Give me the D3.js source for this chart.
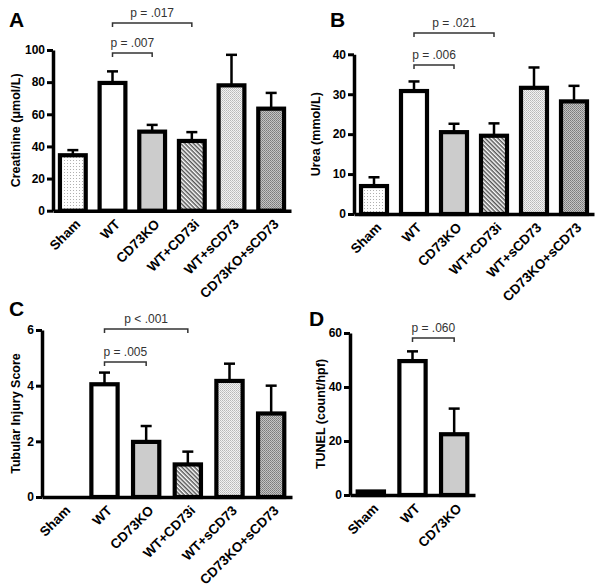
<!DOCTYPE html>
<html><head><meta charset="utf-8">
<script src="https://cdn.jsdelivr.net/npm/d3@7/dist/d3.min.js"></script>
<style>
html,body{margin:0;padding:0;background:#fff;}
svg{display:block;font-family:"Liberation Sans",Arial,Helvetica,sans-serif;}
</style></head>
<body>
<svg id="c" width="604" height="587"></svg>
<script>
// ---- data ----
const groups6 = ["Sham","WT","CD73KO","WT+CD73i","WT+sCD73","CD73KO+sCD73"];
const groups3 = ["Sham","WT","CD73KO"];
const creatinine = [34.5, 79.5, 49.2, 43.4, 78.0, 63.5];
const creatinineErr = [3.2, 7.2, 4.2, 5.5, 19.0, 9.8];
const urea = [7.0, 30.8, 20.5, 19.6, 31.6, 28.2];
const ureaErr = [2.2, 2.4, 2.1, 3.1, 5.1, 3.9];
const injury = [0, 4.05, 1.98, 1.17, 4.17, 3.0];
const injuryErr = [0, 0.42, 0.57, 0.46, 0.62, 1.0];
const tunel = [1.3, 49.6, 22.5];
const tunelErr = [0, 3.6, 9.5];
const ticksA = [0,20,40,60,80,100];
const ticksB = [0,10,20,30,40];
const ticksC = [0,2,4,6];
const ticksD = [0,20,40,60];
const compA = [{a:"WT",b:"CD73KO",label:"p = .007",level:0},{a:"WT",b:"WT+CD73i",label:"p = .017",level:1}];
const compB = [{a:"WT",b:"CD73KO",label:"p = .006",level:0},{a:"WT",b:"WT+CD73i",label:"p = .021",level:1}];
const compC = [{a:"WT",b:"CD73KO",label:"p = .005",level:0},{a:"WT",b:"WT+CD73i",label:"p < .001",level:1}];
const compD = [{a:"WT",b:"CD73KO",label:"p = .060",level:0}];

const svg = d3.select("#c");
svg.append("rect").attr("width",604).attr("height",587).attr("fill","#fff");

// patterns
const defs = svg.append("defs");
const fills = {
  "Sham":"url(#pSham)", "WT":"#ffffff", "CD73KO":"#cccccc",
  "WT+CD73i":"url(#pHatch)", "WT+sCD73":"url(#pLight)", "CD73KO+sCD73":"url(#pDark)"
};
let p = defs.append("pattern").attr("id","pSham").attr("patternUnits","userSpaceOnUse").attr("width",3).attr("height",3);
p.append("rect").attr("width",3).attr("height",3).attr("fill","#fff");
p.append("rect").attr("x",1).attr("y",1).attr("width",1).attr("height",1).attr("fill","#b0b0b0");
p = defs.append("pattern").attr("id","pHatch").attr("patternUnits","userSpaceOnUse").attr("width",3).attr("height",3).attr("patternTransform","rotate(45)");
p.append("rect").attr("width",3).attr("height",3).attr("fill","#fff");
p.append("rect").attr("width",3).attr("height",1.5).attr("fill","#555");
p = defs.append("pattern").attr("id","pLight").attr("patternUnits","userSpaceOnUse").attr("width",2).attr("height",2);
p.append("rect").attr("width",2).attr("height",2).attr("fill","#f2f2f2");
p.append("rect").attr("width",1).attr("height",1).attr("fill","#b8b8b8");
p.append("rect").attr("x",1).attr("y",1).attr("width",1).attr("height",1).attr("fill","#c8c8c8");
p = defs.append("pattern").attr("id","pDark").attr("patternUnits","userSpaceOnUse").attr("width",2).attr("height",2);
p.append("rect").attr("width",2).attr("height",2).attr("fill","#c4c4c4");
p.append("rect").attr("width",1).attr("height",1).attr("fill","#7a7a7a");
p.append("rect").attr("x",1).attr("y",1).attr("width",1).attr("height",1).attr("fill","#8a8a8a");

function panel(cfg){
  const g = svg.append("g");
  const x = d3.scaleBand().domain(cfg.groups).range(cfg.xr).paddingInner(cfg.pad).paddingOuter(cfg.pad/2);
  const y = d3.scaleLinear().domain([0, cfg.ymax]).range(cfg.yr);
  const y0 = y(0);
  const data = cfg.groups.map((k,i)=>({k, v:cfg.values[i], e:cfg.errs[i]}));

  // error bars
  const eb = g.append("g").attr("stroke","#000").attr("stroke-width",2.5);
  data.filter(d=>d.e>0).forEach(d=>{
    const cx = x(d.k)+x.bandwidth()/2;
    eb.append("line").attr("x1",cx).attr("x2",cx).attr("y1",y(d.v)).attr("y2",y(d.v+d.e));
    eb.append("line").attr("x1",cx-5.5).attr("x2",cx+5.5).attr("y1",y(d.v+d.e)).attr("y2",y(d.v+d.e));
  });
  // bars
  g.append("g").selectAll("rect").data(data.filter(d=>d.v>0)).join("rect")
    .attr("x",d=>x(d.k)).attr("width",x.bandwidth())
    .attr("y",d=>y(d.v)).attr("height",d=>y0-y(d.v))
    .attr("fill",d=>fills[d.k]).attr("stroke","#000").attr("stroke-width",4.2);

  // y axis
  const ya = g.append("g").attr("transform",`translate(${cfg.xr[0]},0)`)
    .call(d3.axisLeft(y).tickValues(cfg.ticks).tickFormat(d3.format("~g")).tickSize(6).tickSizeOuter(0).tickPadding(2));
  ya.select(".domain").attr("stroke-width",3.5).attr("stroke","#000");
  ya.selectAll(".tick line").attr("stroke-width",3).attr("stroke","#000");
  ya.selectAll(".tick text").attr("font-size",12).attr("font-weight","bold").attr("fill","#000")
    .attr("font-family","Liberation Sans, Arial, sans-serif");
  // x axis
  const xa = g.append("g").attr("transform",`translate(0,${y0})`)
    .call(d3.axisBottom(x).tickSize(0).tickSizeOuter(0));
  xa.select(".domain").attr("stroke-width",3.5).attr("stroke","#000");
  xa.selectAll(".tick text").attr("font-size",13.5).attr("font-weight","bold").attr("fill","#000")
    .attr("font-family","Liberation Sans, Arial, sans-serif")
    .attr("text-anchor","end").attr("dy","0.35em").attr("y",0)
    .attr("transform","translate(5,11) rotate(-45)");

  // y title
  g.append("text").attr("transform",`translate(${cfg.titleX},${(cfg.yr[0]+cfg.yr[1])/2}) rotate(-90)`)
    .attr("text-anchor","middle").attr("dy","0.35em").attr("font-size",12.5).attr("font-weight","bold")
    .text(cfg.title);
  // letter
  g.append("text").attr("x",cfg.letterPos[0]).attr("y",cfg.letterPos[1])
    .attr("font-size",21).attr("font-weight","bold").text(cfg.letter);

  // comparisons
  cfg.comps.forEach(c=>{
    const xa1 = x(c.a)+x.bandwidth()/2, xb1 = x(c.b)+x.bandwidth()/2;
    const by = cfg.bracketY[c.level];
    g.append("path").attr("d",`M${xa1},${by+4}V${by}H${xb1}V${by+4}`)
      .attr("fill","none").attr("stroke","#333").attr("stroke-width",1.5);
    g.append("text").attr("x",(xa1+xb1)/2).attr("y",by-6).attr("text-anchor","middle")
      .attr("font-size",12).attr("fill","#333").text(c.label);
  });
}

panel({groups:groups6, values:creatinine, errs:creatinineErr, ymax:100, ticks:ticksA,
  xr:[53,291], yr:[210.7,50], pad:0.35, title:"Creatinine (\u03bcmol/L)", titleX:16,
  letter:"A", letterPos:[9,27], comps:compA, bracketY:[53,23]});
panel({groups:groups6, values:urea, errs:ureaErr, ymax:40, ticks:ticksB,
  xr:[354,594], yr:[214,54.3], pad:0.35, title:"Urea (mmol/L)", titleX:316,
  letter:"B", letterPos:[330,27], comps:compB, bracketY:[65,33]});
panel({groups:groups6, values:injury, errs:injuryErr, ymax:6, ticks:ticksC,
  xr:[42,292], yr:[497,330], pad:0.37, title:"Tubular Injury Score", titleX:16,
  letter:"C", letterPos:[9,316], comps:compC, bracketY:[362,329]});
panel({groups:groups3, values:tunel, errs:tunelErr, ymax:60, ticks:ticksD,
  xr:[350,475], yr:[495,333], pad:0.37, title:"TUNEL (count/hpf)", titleX:321,
  letter:"D", letterPos:[309,326], comps:compD, bracketY:[338]});
</script>
</body></html>
